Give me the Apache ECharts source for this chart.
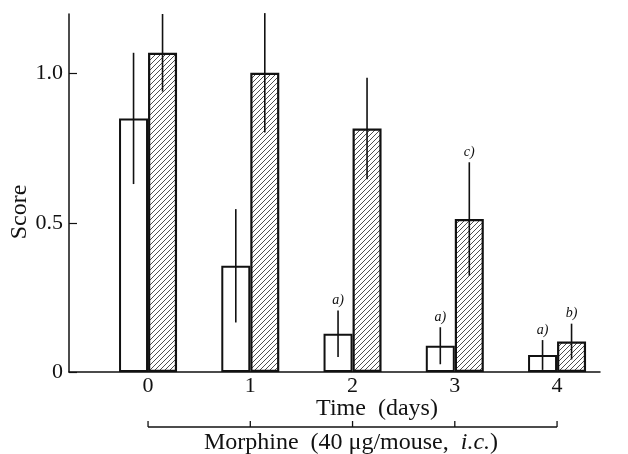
<!DOCTYPE html>
<html>
<head>
<meta charset="utf-8">
<script src="https://cdn.jsdelivr.net/npm/echarts@6/dist/echarts.min.js"></script>
<style>
html,body{margin:0;padding:0;background:#fff;}
#c{width:628px;height:454px;}
</style>
</head>
<body>
<div id="c"></div>
<script>
// ---- data ----
const days = [0, 1, 2, 3, 4];
const openMean = [0.85, 0.356, 0.128, 0.088, 0.057];
const openErr = [0.22, 0.19, 0.078, 0.062, 0.05];
const hatchMean = [1.07, 1.003, 0.816, 0.513, 0.102];
const hatchErr = [0.13, 0.20, 0.17, 0.19, 0.06];
const openMarks = ['', '', 'a)', 'a)', 'a)'];
const hatchMarks = ['', '', '', 'c)', 'b)'];
const yTicks = [0, 0.5, 1];
const yTickLabels = ['0', '0.5', '1.0'];
const xTicks = [0, 1, 2, 3, 4];
const xTitle = 'Time  (days)';
const yTitle = 'Score';

const SERIF = '"Liberation Serif","DejaVu Serif",serif';
const INK = '#111';
const BAR_W = 29;

// hatch pattern
function makeHatch() {
  const s = 5;
  const cv = document.createElement('canvas');
  cv.width = s; cv.height = s;
  const g = cv.getContext('2d');
  g.fillStyle = '#fff'; g.fillRect(0, 0, s, s);
  g.strokeStyle = '#222'; g.lineWidth = 0.8;
  g.beginPath();
  g.moveTo(0, s); g.lineTo(s, 0);
  g.moveTo(-1, 1); g.lineTo(1, -1);
  g.moveTo(s - 1, s + 1); g.lineTo(s + 1, s - 1);
  g.stroke();
  return cv;
}

function errSeries(means, errs, marks, side) {
  return {
    type: 'custom',
    z: 5,
    clip: false,
    data: days.map((d, i) => [d, means[i], errs[i], i]),
    renderItem: function (params, api) {
      const x = api.value(0), m = api.value(1), e = api.value(2), i = api.value(3);
      const top = api.coord([x, m + e]);
      const bot = api.coord([x, Math.max(0, m - e)]);
      const cx = top[0] + side * BAR_W / 2;
      const children = [{
        type: 'line',
        shape: { x1: cx, y1: top[1], x2: cx, y2: bot[1] },
        style: { stroke: INK, lineWidth: 1.6 }
      }];
      if (marks[i]) {
        children.push({
          type: 'text',
          x: cx, y: top[1] - 3,
          style: {
            text: marks[i], fill: INK,
            font: 'italic 14px ' + SERIF,
            align: 'center', verticalAlign: 'bottom'
          }
        });
      }
      return { type: 'group', children: children };
    }
  };
}

const chart = echarts.init(document.getElementById('c'), null, { renderer: 'canvas' });
chart.setOption({
  animation: false,
  backgroundColor: '#fff',
  grid: { left: 69, right: 28, top: 14, bottom: 82, outerBoundsMode: 'none' },
  xAxis: {
    type: 'value',
    min: -0.773, max: 4.42,
    axisLine: { show: true, onZero: false, lineStyle: { color: INK, width: 1.5 } },
    axisTick: { show: false },
    splitLine: { show: false },
    axisLabel: {
      customValues: xTicks,
      color: INK, fontFamily: SERIF, fontSize: 22, margin: 3,
      formatter: v => String(v)
    }
  },
  yAxis: {
    type: 'value',
    min: 0, max: 1.2,
    axisLine: { show: true, onZero: false, lineStyle: { color: INK, width: 1.5 } },
    axisTick: { show: true, inside: true, length: 8, customValues: yTicks, lineStyle: { color: INK, width: 1.2 } },
    splitLine: { show: false },
    axisLabel: {
      customValues: yTicks,
      color: INK, fontFamily: SERIF, fontSize: 22, margin: 6,
      formatter: v => yTickLabels[yTicks.indexOf(v)] !== undefined ? yTickLabels[yTicks.indexOf(v)] : String(v)
    }
  },
  series: [
    {
      type: 'bar', name: 'open',
      barWidth: BAR_W, barGap: '0%',
      data: days.map((d, i) => [d, openMean[i]]),
      itemStyle: { color: '#fff', borderColor: INK, borderWidth: 2 }
    },
    {
      type: 'bar', name: 'hatched',
      barWidth: BAR_W, barGap: '0%',
      data: days.map((d, i) => [d, hatchMean[i]]),
      itemStyle: { color: { image: makeHatch(), repeat: 'repeat' }, borderColor: INK, borderWidth: 2.2 }
    },
    errSeries(openMean, openErr, openMarks, -1),
    errSeries(hatchMean, hatchErr, hatchMarks, 1)
  ]
});

// annotations positioned from the axis scale
const px = days.map(d => chart.convertToPixel({ xAxisIndex: 0 }, d));
const yBr = 427;
const graphics = [
  {
    type: 'text', x: 20, y: 212, rotation: Math.PI / 2,
    style: { text: yTitle, font: '24px ' + SERIF, fill: INK, align: 'center', verticalAlign: 'middle' }
  },
  {
    type: 'text', x: 377, y: 409,
    style: { text: xTitle, font: '24px ' + SERIF, fill: INK, align: 'center', verticalAlign: 'middle' }
  },
  {
    type: 'line', shape: { x1: px[0], y1: yBr, x2: px[px.length - 1], y2: yBr },
    style: { stroke: INK, lineWidth: 1.3 }
  },
  {
    type: 'text', x: 351, y: 443,
    style: {
      text: '{n|Morphine  (40 μg/mouse,  }{i|i.c.}{n|)}',
      align: 'center', verticalAlign: 'middle',
      rich: {
        n: { font: '24px ' + SERIF, fill: INK },
        i: { font: 'italic 24px ' + SERIF, fill: INK }
      }
    }
  }
];
px.forEach(p => graphics.push({
  type: 'line', shape: { x1: p, y1: yBr - 6, x2: p, y2: yBr },
  style: { stroke: INK, lineWidth: 1.3 }
}));
chart.setOption({ graphic: graphics });
</script>
</body>
</html>
